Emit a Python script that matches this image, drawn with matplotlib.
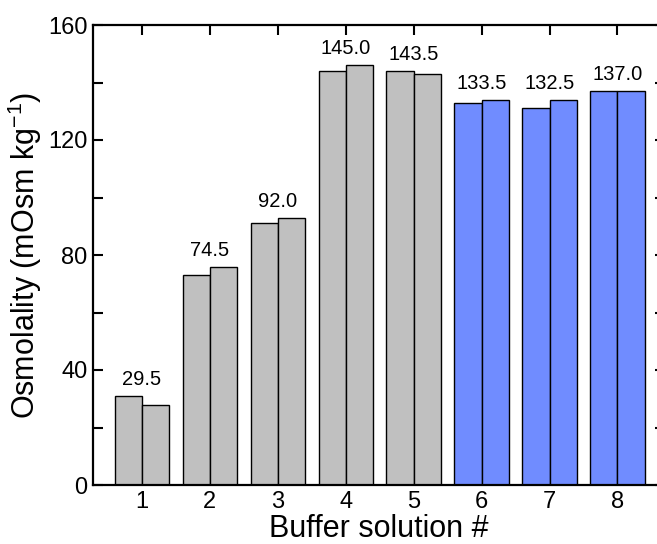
import numpy as np
import matplotlib
matplotlib.use("Agg")
import matplotlib.pyplot as plt
from matplotlib.ticker import MultipleLocator, FuncFormatter

plt.rcParams['font.family'] = ['Liberation Sans', 'DejaVu Sans']
plt.rcParams['mathtext.fontset'] = 'custom'
plt.rcParams['mathtext.rm'] = 'Liberation Sans'
plt.rcParams['mathtext.it'] = 'Liberation Sans:italic'

# data
buffers = [1, 2, 3, 4, 5, 6, 7, 8]
run_a = [31, 73, 91, 144, 144, 133, 131, 137]
run_b = [28, 76, 93, 146, 143, 134, 134, 137]
mean_labels = ["29.5", "74.5", "92.0", "145.0", "143.5", "133.5", "132.5", "137.0"]
bar_colors = ["#c0c0c0"] * 5 + ["#708cff"] * 3

x = np.array(buffers)
w = 0.4

fig = plt.figure(figsize=(6.57, 5.44), dpi=100)
ax = fig.add_axes([93 / 657, 1 - 485 / 544, (665 - 93) / 657, (485 - 25) / 544])

ax.bar(x - w / 2, run_a, width=w, color=bar_colors, edgecolor="black", linewidth=1.0, zorder=2)
ax.bar(x + w / 2, run_b, width=w, color=bar_colors, edgecolor="black", linewidth=1.0, zorder=2)

for xi, a, b, lab in zip(x, run_a, run_b, mean_labels):
    ax.annotate(lab, (xi, max(a, b)), xytext=(0, 5), textcoords="offset points",
                ha="center", va="bottom", fontsize=14.5)

ax.set_xlim(0.28, 8.7)
ax.set_ylim(0, 160)
ax.set_xticks(x)
ax.yaxis.set_major_locator(MultipleLocator(20))
ax.yaxis.set_major_formatter(FuncFormatter(lambda v, p: f"{int(v)}" if v % 40 == 0 else ""))

ax.tick_params(direction="in", length=7.5, width=1.5, labelsize=17,
               top=True, right=True, pad=4)
for s in ax.spines.values():
    s.set_linewidth(1.6)

ax.set_xlabel("Buffer solution #", fontsize=22)
ax.set_ylabel(r"Osmolality (mOsm kg$^{-1}$)", fontsize=22)
ax.xaxis.set_label_coords(0.5, -0.063)
ax.yaxis.set_label_coords(-0.086, 0.5)

fig.savefig("out.png", dpi=100)
